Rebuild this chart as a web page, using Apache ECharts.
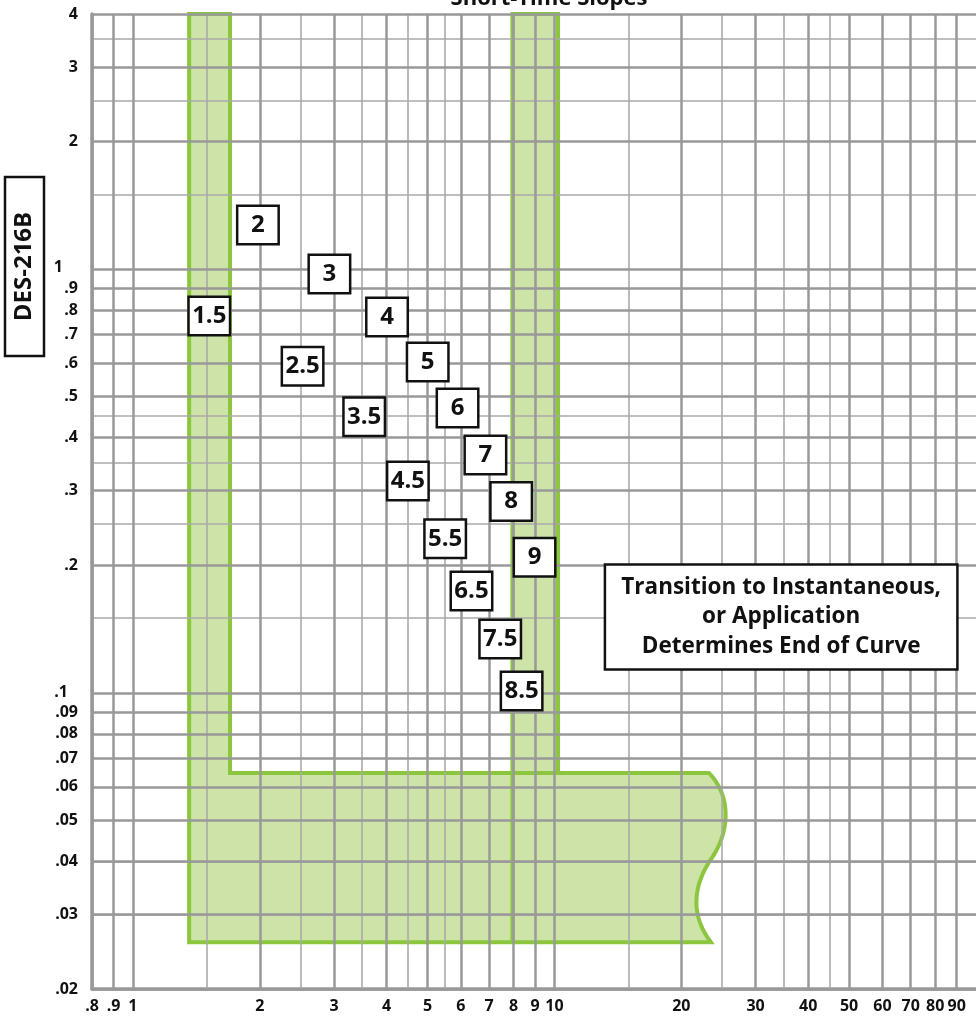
<!DOCTYPE html>
<html>
<head>
<meta charset="utf-8">
<script src="https://cdn.jsdelivr.net/npm/echarts@6/dist/echarts.min.js"></script>
<style>
html,body{margin:0;padding:0;background:#fff;}
#c{width:976px;height:1020px;}
</style>
</head>
<body>
<div id="c"></div>
<script>
// ---------- data ----------
const xMajor = [0.8, 0.9, 1, 2, 3, 4, 5, 6, 7, 8, 9, 10, 20, 30, 40, 50, 60, 70, 80, 90];
const xMinor = [1.5, 2.5, 3.5, 4.5, 5.5, 15, 25, 35, 45];
const xTickLabels = ['.8', '.9', '1', '2', '3', '4', '5', '6', '7', '8', '9', '10', '20', '30', '40', '50', '60', '70', '80', '90'];

const yMajor = [0.02, 0.03, 0.04, 0.05, 0.06, 0.07, 0.08, 0.09, 0.1, 0.2, 0.3, 0.4, 0.5, 0.6, 0.7, 0.8, 0.9, 1, 2, 3, 4];
const yMinor = [0.025, 0.035, 0.045, 0.15, 0.25, 0.35, 0.45, 1.5, 2.5, 3.5];
const yTickLabels = ['.02', '.03', '.04', '.05', '.06', '.07', '.08', '.09', '.1', '.2', '.3', '.4', '.5', '.6', '.7', '.8', '.9', '1', '2', '3', '4'];

const slopeNames = ['1.5', '2', '2.5', '3', '3.5', '4', '4.5', '5', '5.5', '6', '6.5', '7', '7.5', '8', '8.5', '9'];
const slopeX = [1.518, 1.980, 2.527, 2.926, 3.538, 4.008, 4.491, 5.005, 5.506, 5.891, 6.357, 6.860, 7.437, 7.896, 8.359, 8.971];
const slopeY = [0.775, 1.271, 0.590, 0.974, 0.448, 0.771, 0.316, 0.604, 0.231, 0.470, 0.174, 0.364, 0.134, 0.283, 0.101, 0.209];

const noteText = ['Transition to Instantaneous,', 'or Application', 'Determines End of Curve'];
const notePos = [34.5, 0.151];

const bandLeftX = [1.36, 1.70];
const bandRightX = [7.95, 10.2];
const bandTopY = 4;
const shelfY = [0.0258, 0.0647];          // bottom, top of horizontal band
const waveX = [23.25, 26.19, 26.19, 23.63, 21.31, 20.97, 23.50];   // bezier control points of wavy end
const waveY = [0.0647, 0.0574, 0.04746, 0.04076, 0.0352, 0.0299, 0.0258];

const titleText = 'Short-Time Slopes';
const sideLabel = 'DES-216B';

// ---------- helpers ----------
const FONT = '"Open Sans", "DejaVu Sans", sans-serif';
const GREEN = '#8cc63f';
const GREEN_FILL = '#cde3a8';
const INK = '#111';

function labelFor(v, values, labels) {
  for (let i = 0; i < values.length; i++) {
    if (Math.abs(values[i] - v) < values[i] * 1e-6) return labels[i];
  }
  return '';
}
function cubic(p0, p1, p2, p3, n) {
  const pts = [];
  for (let k = 1; k <= n; k++) {
    const t = k / n, u = 1 - t;
    pts.push([
      u*u*u*p0[0] + 3*u*u*t*p1[0] + 3*u*t*t*p2[0] + t*t*t*p3[0],
      u*u*u*p0[1] + 3*u*u*t*p1[1] + 3*u*t*t*p2[1] + t*t*t*p3[1]
    ]);
  }
  return pts;
}
function lShape(api) {
  const c = (x, y) => api.coord([x, y]);
  const w = waveX.map((x, i) => c(x, waveY[i]));
  const pts = [c(bandLeftX[0], bandTopY), c(bandLeftX[1], bandTopY), c(bandLeftX[1], shelfY[1]), w[0]];
  pts.push(...cubic(w[0], w[1], w[2], w[3], 24));
  pts.push(...cubic(w[3], w[4], w[5], w[6], 24));
  pts.push(c(bandLeftX[0], shelfY[0]));
  return pts;
}
function rightBand(api) {
  const c = (x, y) => api.coord([x, y]);
  return [c(bandRightX[0], bandTopY), c(bandRightX[1], bandTopY), c(bandRightX[1], shelfY[1]), c(bandRightX[0], shelfY[1])];
}
function gridLines(xs, ys) {
  return xs.map(v => ({ xAxis: v })).concat(ys.map(v => ({ yAxis: v })));
}

const chart = echarts.init(document.getElementById('c'));

chart.setOption({
  animation: false,
  backgroundColor: '#fff',
  grid: { left: 92, top: 14, width: 890, height: 975, containLabel: false },
  xAxis: {
    type: 'log', min: 0.8, max: 100, logBase: 10,
    axisLine: { show: true, onZero: false, lineStyle: { color: '#999', width: 3.5 } },
    axisTick: { show: false },
    splitLine: { show: false },
    axisLabel: {
      customValues: xMajor,
      formatter: v => labelFor(v, xMajor, xTickLabels),
      fontFamily: FONT, fontWeight: 'bold', fontSize: 16, color: INK, margin: 9,
      showMinLabel: true, showMaxLabel: true, hideOverlap: false
    }
  },
  yAxis: {
    type: 'log', min: 0.02, max: 4, logBase: 10,
    axisLine: { show: true, onZero: false, lineStyle: { color: '#999', width: 3.5 } },
    axisTick: { show: false },
    splitLine: { show: false },
    axisLabel: {
      customValues: yMajor,
      formatter: v => {
        const s = labelFor(v, yMajor, yTickLabels);
        if (s === '1') return '{a|1}';
        if (s === '.1') return '{b|.1}';
        return s;
      },
      rich: {
        a: { fontFamily: FONT, fontWeight: 'bold', fontSize: 16, color: INK, padding: [0, 15, 4, 0] },
        b: { fontFamily: FONT, fontWeight: 'bold', fontSize: 16, color: INK, padding: [0, 10, 0, 0] }
      },
      fontFamily: FONT, fontWeight: 'bold', fontSize: 16, color: INK, margin: 14,
      showMinLabel: true, showMaxLabel: true, hideOverlap: false
    }
  },
  graphic: [
    {
      type: 'text', x: 549, y: -1, z: 10,
      style: { text: titleText, font: 'bold 22px ' + FONT, fill: INK, align: 'center', verticalAlign: 'middle' }
    },
    {
      type: 'group', x: 24.5, y: 266.5, rotation: Math.PI / 2, z: 10,
      children: [
        { type: 'rect', shape: { x: -89.5, y: -19.5, width: 179, height: 39 },
          style: { fill: '#fff', stroke: INK, lineWidth: 2.5 } },
        { type: 'text', x: 0, y: 0,
          style: { text: sideLabel, font: 'bold 24px ' + FONT, fill: INK, align: 'center', verticalAlign: 'middle' } }
      ]
    }
  ],
  series: [
    {
      name: 'fill', type: 'custom', z: 1, silent: true, clip: false,
      data: [[2, 1]],
      renderItem: (params, api) => ({
        type: 'group',
        children: [
          { type: 'polygon', shape: { points: lShape(api) }, style: { fill: GREEN_FILL, stroke: null } },
          { type: 'polygon', shape: { points: rightBand(api) }, style: { fill: GREEN_FILL, stroke: null } }
        ]
      })
    },
    {
      name: 'minorGrid', type: 'line', z: 2, silent: true, data: [], showSymbol: false,
      markLine: {
        silent: true, symbol: ['none', 'none'], label: { show: false },
        lineStyle: { color: '#aaaaaa', width: 1.6, type: 'solid' },
        emphasis: { disabled: true },
        data: gridLines(xMinor, yMinor)
      }
    },
    {
      name: 'majorGrid', type: 'line', z: 2, silent: true, data: [], showSymbol: false,
      markLine: {
        silent: true, symbol: ['none', 'none'], label: { show: false },
        lineStyle: { color: '#999999', width: 2.5, type: 'solid' },
        emphasis: { disabled: true },
        data: gridLines(xMajor, yMajor)
      }
    },
    {
      name: 'outline', type: 'custom', z: 3, silent: true, clip: false,
      data: [[2, 1]],
      renderItem: (params, api) => {
        const a = api.coord([bandRightX[0], shelfY[1]]);
        const b = api.coord([bandRightX[0], shelfY[0]]);
        const st = { fill: null, stroke: GREEN, lineWidth: 4, lineJoin: 'miter' };
        return {
          type: 'group',
          children: [
            { type: 'polygon', shape: { points: rightBand(api) }, style: st },
            { type: 'line', shape: { x1: a[0], y1: a[1], x2: b[0], y2: b[1] }, style: st },
            { type: 'polygon', shape: { points: lShape(api) }, style: st }
          ]
        };
      }
    },
    {
      name: 'slopes', type: 'scatter', z: 5, silent: true,
      symbolSize: 1, itemStyle: { color: 'rgba(0,0,0,0)', opacity: 1 },
      data: slopeNames.map((n, i) => ({ value: [slopeX[i], slopeY[i]], name: n })),
      label: {
        show: true, position: 'inside', formatter: p => p.name,
        fontFamily: FONT, fontWeight: 'bold', fontSize: 24, color: INK,
        backgroundColor: '#fff', borderColor: INK, borderWidth: 2.5,
        width: 37, height: 34, lineHeight: 34, align: 'center', verticalAlign: 'middle',
        padding: [1, 1]
      }
    },
    {
      name: 'note', type: 'scatter', z: 5, silent: true,
      symbolSize: 1, itemStyle: { color: 'rgba(0,0,0,0)', opacity: 1 },
      data: [{ value: notePos, name: 'note' }],
      label: {
        show: true, position: 'inside', formatter: () => noteText.join('\n'),
        fontFamily: FONT, fontWeight: 'bold', fontSize: 22.5, color: INK,
        backgroundColor: '#fff', borderColor: INK, borderWidth: 2.5,
        width: 330, lineHeight: 29.5, align: 'center', verticalAlign: 'middle',
        padding: [7, 10]
      }
    }
  ]
});
</script>
</body>
</html>
